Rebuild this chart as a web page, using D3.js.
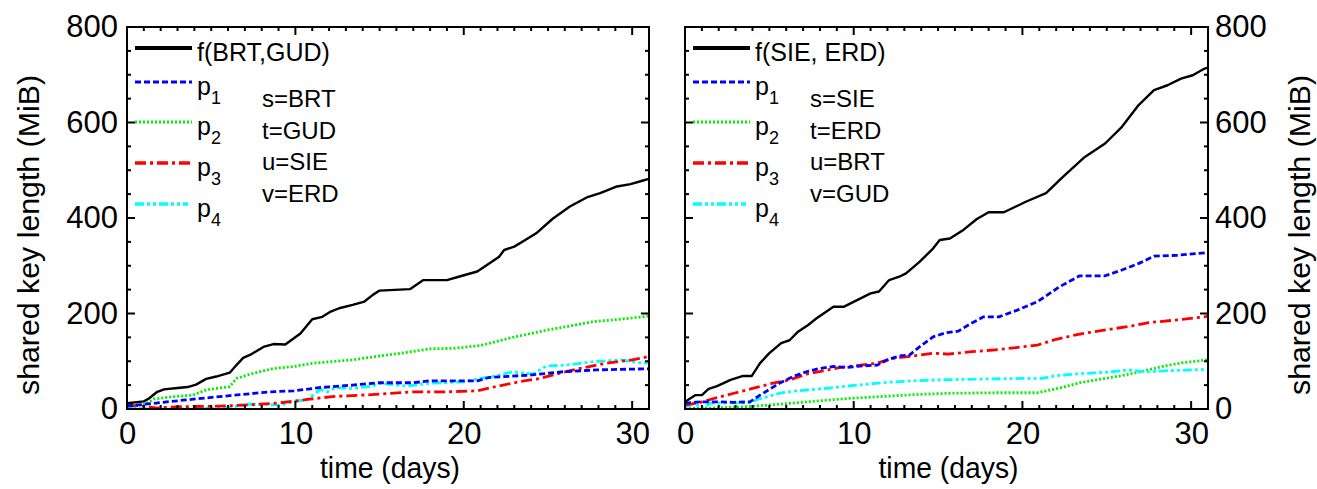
<!DOCTYPE html>
<html>
<head>
<meta charset="utf-8">
<script src="https://cdn.jsdelivr.net/npm/d3@7"></script>
<style>
  body { margin: 0; background: #fff; }
  text { font-family: "Liberation Sans", Arial, sans-serif; fill: #000; }
</style>
</head>
<body>
<div id="chart"></div>
<script>
// Chart size
const width = 1317;
const height = 489;

// Axis ticks
const xMajorTicks = [0, 10, 20, 30];
const yMajorTicks = [0, 200, 400, 600, 800];
const xDomain = [0, 31];
const yDomain = [0, 800];

// Series names / legend labels
const seriesKeys = ["f", "p1", "p2", "p3", "p4"];
const leftFLabel = "f(BRT,GUD)";
const rightFLabel = "f(SIE, ERD)";
const leftAssign = ["s=BRT", "t=GUD", "u=SIE", "v=ERD"];
const rightAssign = ["s=SIE", "t=ERD", "u=BRT", "v=GUD"];

// Left panel data [day, MiB]
const leftF = [[0,12],[1.0,16],[1.3,22],[1.8,36],[2.2,41],[3.0,44],[3.6,46],[4.1,51],[4.7,63],[5.3,68],[6.1,76],[6.5,92],[6.9,107],[7.4,115],[8.1,130],[8.7,136],[9.4,135],[10.3,158],[11.0,188],[11.6,193],[12.1,204],[12.6,211],[13.4,218],[14.1,225],[14.6,239],[15.0,248],[16.8,251],[17.6,270],[19.0,270],[19.8,278],[20.8,288],[21.4,302],[22.1,319],[22.4,333],[23.0,340],[23.7,355],[24.3,368],[25.3,399],[26.3,424],[27.3,443],[28.1,452],[29.1,466],[29.9,471],[30.6,478],[31,482]];
const leftP1 = [[0,6],[1.6,12],[3.5,19],[6.1,28],[8.5,36],[9.9,38],[11.5,45],[13.4,50],[15.0,55],[17.0,55],[18.0,59],[20.8,59],[21.5,66],[23.9,71],[25.9,78],[27.9,82],[30.6,84],[31,84]];
const leftP2 = [[0,5],[1.1,10],[1.6,21],[2.8,26],[3.9,29],[4.7,40],[6.1,47],[6.5,64],[7.3,73],[8.7,85],[9.9,89],[11.1,96],[13.4,103],[15.0,111],[16.5,118],[18.0,126],[19.4,127],[21.0,133],[22.9,150],[24.9,165],[26.5,175],[27.7,183],[29.0,187],[30.6,193],[31,195]];
const leftP3 = [[0,8],[1.0,6],[1.8,2],[2.5,4],[3.5,5],[5.5,6],[6.9,8],[7.9,10],[9.1,13],[10.7,20],[12.2,26],[13.4,28],[15.0,31],[17.0,36],[19.0,36],[20.8,38],[21.9,47],[23.3,57],[24.5,64],[25.7,75],[26.9,85],[28.5,96],[30.0,103],[31,110]];
const leftP4 = [[0,2],[1.0,1],[2.0,0],[4.0,0],[6.1,3],[7.1,10],[7.9,10],[9.1,8],[9.9,15],[10.7,20],[11.5,41],[11.9,36],[12.4,45],[13.4,43],[14.6,48],[15.0,54],[16.6,48],[18.0,54],[20.0,57],[21.0,64],[21.9,69],[22.9,78],[24.1,73],[24.9,90],[26.1,92],[27.7,99],[29.3,103],[30.6,96],[31,97]];

// Right panel data [day, MiB]
const rightF = [[0,15],[0.6,29],[1.0,29],[1.4,42],[1.9,48],[2.7,61],[3.4,69],[3.95,69],[4.45,96],[5.0,117],[5.7,138],[6.2,144],[6.7,162],[7.3,176],[7.8,190],[8.8,214],[9.4,214],[10.2,228],[11.0,242],[11.5,246],[12.1,270],[12.7,277],[13.1,284],[13.9,308],[14.7,336],[15.1,354],[15.7,357],[16.5,375],[17.3,398],[18.0,412],[18.9,412],[20.2,434],[21.4,452],[22.4,486],[23.7,528],[24.9,556],[25.9,591],[26.9,637],[27.8,668],[28.6,678],[29.4,692],[30.1,699],[30.8,713],[31,715]];
const rightP1 = [[0,12],[0.9,15],[2.1,15],[2.9,14],[3.85,15],[4.45,29],[5.6,54],[6.4,68],[7.2,78],[8.0,85],[8.8,89],[9.6,87],[10.4,90],[11.4,92],[12.0,103],[12.7,111],[13.3,113],[13.9,130],[14.7,151],[15.5,160],[16.2,163],[16.9,178],[17.7,193],[18.6,193],[19.7,207],[20.9,225],[22.2,256],[23.4,279],[24.9,279],[25.9,291],[26.9,305],[27.8,320],[29.2,322],[30.8,327],[31,330]];
const rightP2 = [[0,2],[1.7,2],[3.7,5],[5.6,10],[7.6,16],[9.6,22],[11.6,26],[13.5,30],[15.7,33],[18.4,34],[20.9,34],[22.2,44],[23.4,55],[25.9,70],[27.0,78],[28.4,90],[29.5,97],[30.8,102],[31,104]];
const rightP3 = [[0,8],[0.9,14],[1.7,22],[2.9,33],[4.0,43],[5.2,54],[6.2,61],[7.2,73],[8.2,80],[9.2,87],[10.4,92],[11.4,96],[12.3,106],[13.5,111],[14.7,117],[15.6,115],[17.0,120],[18.4,124],[19.5,128],[20.9,134],[22.0,146],[23.4,157],[25.0,166],[26.5,174],[27.5,181],[29.0,186],[30.8,193],[31,195]];
const rightP4 = [[0,5],[0.6,12],[1.0,2],[1.5,12],[2.7,13],[3.8,13],[4.3,20],[4.9,26],[5.6,33],[6.6,38],[7.6,41],[8.6,44],[9.6,48],[10.8,52],[12.0,56],[13.5,59],[15.0,61],[16.5,62],[18.0,63],[20.0,64],[21.2,64],[22.0,70],[23.4,74],[25.0,77],[26.3,82],[27.3,78],[28.5,80],[30.0,82],[31,83]];

// Line styles per series
const styles = {
  f:  { color: "#000000", dash: null,          width: 2.4, legendWidth: 4 },
  p1: { color: "#0000ff", dash: "6,3",         width: 2.8, legendWidth: 3 },
  p2: { color: "#00ee00", dash: "2,2",         width: 2.8, legendWidth: 3 },
  p3: { color: "#ff0000", dash: "11,4,3,4",    width: 2.8, legendWidth: 3.5 },
  p4: { color: "#00ffff", dash: "9,3,3,3,3,3", width: 2.8, legendWidth: 3.5 }
};

const panels = [
  { id: "L", x0: 127, x1: 649, series: [leftF, leftP1, leftP2, leftP3, leftP4],
    fLabel: leftFLabel, assign: leftAssign, labelSide: "left" },
  { id: "R", x0: 685, x1: 1208, series: [rightF, rightP1, rightP2, rightP3, rightP4],
    fLabel: rightFLabel, assign: rightAssign, labelSide: "right" }
];
const plotTop = 27, plotBottom = 409;

const svg = d3.select("#chart").append("svg")
  .attr("width", width)
  .attr("height", height);

const range = (a, b, s) => d3.range(a, b + 1e-9, s);

panels.forEach(p => {
  const x = d3.scaleLinear().domain(xDomain).range([p.x0, p.x1]);
  const y = d3.scaleLinear().domain(yDomain).range([plotBottom, plotTop]);
  const g = svg.append("g");

  const xTicks = range(0, 31, 1);
  const yTicks = range(0, 800, 50);

  // clip
  svg.append("clipPath").attr("id", "clip" + p.id)
    .append("rect").attr("x", p.x0).attr("y", plotTop)
    .attr("width", p.x1 - p.x0).attr("height", plotBottom - plotTop);

  // curves
  const line = d3.line().x(d => x(d[0])).y(d => y(d[1]));
  const order = [2, 4, 3, 1, 0];
  order.forEach(i => {
    const st = styles[seriesKeys[i]];
    g.append("path")
      .datum(p.series[i])
      .attr("clip-path", `url(#clip${p.id})`)
      .attr("d", line)
      .attr("fill", "none")
      .attr("stroke", st.color)
      .attr("stroke-width", st.width)
      .attr("stroke-dasharray", st.dash)
      .attr("stroke-linejoin", "round");
  });

  // inward ticks on all four sides (major longer)
  const len = (d, step) => (d % step === 0 ? 8 : 4);
  const ticks = g.append("g").attr("stroke", "#000").attr("stroke-width", 2);
  [plotBottom, plotTop].forEach((y0, si) => {
    ticks.selectAll(null).data(xTicks).join("line")
      .attr("x1", d => x(d)).attr("x2", d => x(d))
      .attr("y1", y0)
      .attr("y2", d => si === 0 ? y0 - len(d, 10) : y0 + len(d, 10));
  });
  [p.x0, p.x1].forEach((x0, si) => {
    ticks.selectAll(null).data(yTicks).join("line")
      .attr("y1", d => y(d)).attr("y2", d => y(d))
      .attr("x1", x0)
      .attr("x2", d => si === 0 ? x0 + len(d, 200) : x0 - len(d, 200));
  });

  // tick labels through d3 axes
  const labelAxis = (gen, transform, pad) => {
    const a = g.append("g").attr("transform", transform)
      .call(gen.tickSize(0).tickPadding(pad));
    a.select(".domain").remove();
    a.selectAll("text").style("font-size", "31px")
      .style("font-family", "'Liberation Sans', Arial, sans-serif");
  };
  labelAxis(d3.axisBottom(x).tickValues(xMajorTicks), `translate(0,${plotBottom})`, 13);
  if (p.labelSide === "left") {
    labelAxis(d3.axisLeft(y).tickValues(yMajorTicks), `translate(${p.x0},0)`, 9);
  } else {
    labelAxis(d3.axisRight(y).tickValues(yMajorTicks), `translate(${p.x1},0)`, 7);
  }

  // frame
  g.append("rect")
    .attr("x", p.x0).attr("y", plotTop)
    .attr("width", p.x1 - p.x0).attr("height", plotBottom - plotTop)
    .attr("fill", "none").attr("stroke", "#000").attr("stroke-width", 2);

  // x title
  g.append("text")
    .attr("x", (p.x0 + p.x1) / 2 + 2).attr("y", 478)
    .attr("text-anchor", "middle")
    .attr("textLength", 140).attr("lengthAdjust", "spacingAndGlyphs")
    .style("font-size", "30px")
    .text("time (days)");

  // y title
  const ty = p.labelSide === "left" ? 39 : 1310;
  g.append("text")
    .attr("transform", `translate(${ty},${(plotTop + plotBottom) / 2 + 17}) rotate(-90)`)
    .attr("text-anchor", "middle")
    .attr("textLength", 320).attr("lengthAdjust", "spacingAndGlyphs")
    .style("font-size", "30px")
    .text("shared key length (MiB)");

  // legend
  const lx0 = p.x0 + 8, lx1 = p.x0 + 65, tx = p.x0 + 70;
  const rowY = [48, 82, 122, 163, 204];
  seriesKeys.forEach((k, i) => {
    const st = styles[k];
    g.append("line")
      .attr("x1", lx0).attr("x2", k === "p4" ? lx1 - 4 : lx1)
      .attr("y1", rowY[i]).attr("y2", rowY[i])
      .attr("stroke", st.color)
      .attr("stroke-width", st.legendWidth)
      .attr("stroke-dasharray", st.dash);
    const t = g.append("text")
      .attr("x", tx).attr("y", rowY[i] + 13)
      .style("font-size", "25px");
    if (k === "f") {
      t.text(p.fLabel);
    } else {
      t.append("tspan").text("p");
      t.append("tspan").attr("dy", 9).style("font-size", "18px").text(k.slice(1));
    }
  });

  // assignment block
  const ax = p.labelSide === "left" ? p.x0 + 135 : p.x0 + 125;
  p.assign.forEach((s, i) => {
    g.append("text")
      .attr("x", ax).attr("y", 107 + i * 31.5)
      .style("font-size", "24px")
      .text(s);
  });
});
</script>
</body>
</html>
